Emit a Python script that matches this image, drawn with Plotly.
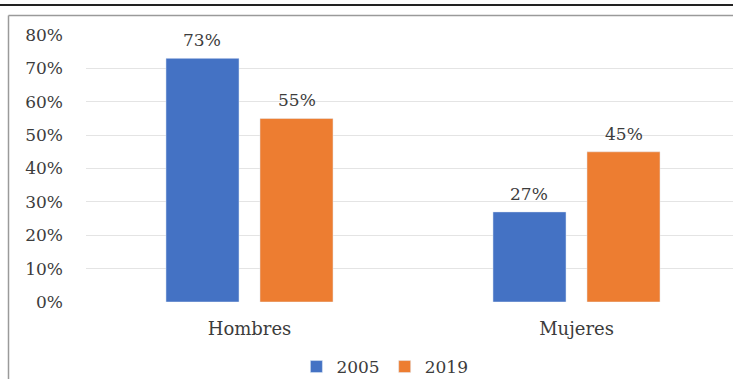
import plotly.graph_objects as go

categories = ["Hombres", "Mujeres"]
series_names = ["2005", "2019"]
values_2005 = [73, 27]
values_2019 = [55, 45]
colors = ["#4472C4", "#ED7D31"]

FONT = "DejaVu Serif"
TXT = "#3c3c3c"

BARGAP, GROUPGAP = 0.425, 0.223

fig = go.Figure()
all_series = [values_2005, values_2019]
for name, vals, col in zip(series_names, all_series, colors):
    fig.add_trace(go.Bar(
        x=categories, y=vals, name=name, marker_color=col,
    ))

# data labels above bars (positioned in data coordinates)
annotations = []
slot = (1 - BARGAP) / len(all_series)
for si, vals in enumerate(all_series):
    off = -(1 - BARGAP) / 2 + slot * (si + 0.5)
    for ci, v in enumerate(vals):
        annotations.append(dict(
            x=ci + off, y=v, xref="x", yref="y", text=f"{v}%", showarrow=False,
            yanchor="middle", yshift=18,
            font=dict(family=FONT, size=17, color=TXT),
        ))

# plot area: x 86..733, y 35..302 px
L, R, T, B = 86, 733, 35, 302
def px_x(p): return (p - L) / (R - L)
def px_y(p): return (B - p) / (B - T)

fig.update_layout(
    width=733, height=379,
    margin=dict(l=L, r=733 - R, t=T, b=379 - B, autoexpand=False),
    paper_bgcolor="white", plot_bgcolor="white",
    barmode="group", bargap=BARGAP, bargroupgap=GROUPGAP,
    font=dict(family=FONT, size=16, color=TXT),
    showlegend=True,
    annotations=annotations,
    legend=dict(orientation="h", x=0.462, xanchor="center",
                yref="container", y=1 - 367 / 379, yanchor="middle",
                font=dict(family=FONT, size=17, color=TXT), itemwidth=30,
                tracegroupgap=0, traceorder="normal"),
    xaxis=dict(range=[-0.5, -0.5 + (R - L) / 327], showgrid=False, zeroline=False,
               showline=False, ticks="", ticklabelstandoff=14, automargin=False,
               tickfont=dict(family=FONT, size=18, color=TXT)),
    yaxis=dict(range=[0, 80], dtick=10, ticksuffix="%", showgrid=True,
               gridcolor="#e4e4e4", gridwidth=1, zeroline=False, showline=False,
               ticklabelstandoff=22, automargin=False,
               tickfont=dict(family=FONT, size=17, color=TXT)),
    shapes=[
        dict(type="line", xref="paper", yref="paper", x0=-0.2, x1=1.1, y0=px_y(5), y1=px_y(5),
             line=dict(color="#222222", width=2)),
        dict(type="line", xref="paper", yref="paper", x0=px_x(8.5), x1=1.1, y0=px_y(15.5), y1=px_y(15.5),
             line=dict(color="#9a9a9a", width=1.5)),
        dict(type="line", xref="paper", yref="paper", x0=px_x(8.5), x1=px_x(8.5), y0=px_y(15.5), y1=px_y(390),
             line=dict(color="#9a9a9a", width=1.5)),
    ],
)

fig.write_html("out.html")
